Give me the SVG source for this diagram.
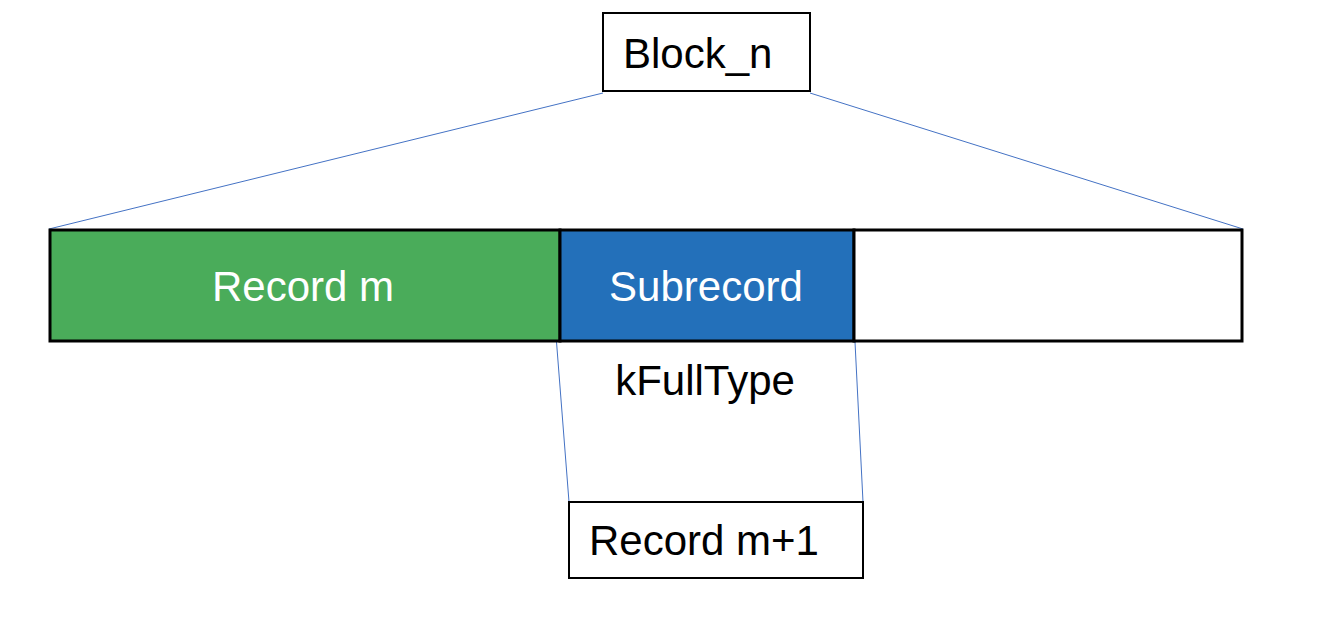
<svg xmlns="http://www.w3.org/2000/svg" width="1339" height="621" viewBox="0 0 1339 621">
<style>
text{font-family:"Liberation Sans",Arial,sans-serif;font-size:42px}
.dark{fill:#000}
.light{fill:#fff}
.box{fill:#fff;stroke:#000;stroke-width:2}
.conn{stroke:#4472C4;stroke-width:1;fill:none}
</style>
<rect width="1339" height="621" fill="#fff"/>
<g id="connectors">
<line class="conn" x1="603" y1="93" x2="49" y2="229"/>
<line class="conn" x1="810" y1="93" x2="1243" y2="229"/>
<line class="conn" x1="556.5" y1="342" x2="569" y2="502"/>
<line class="conn" x1="855" y1="342" x2="863" y2="502"/>
</g>
<g id="block_n">
<rect class="box" x="603" y="13" width="207" height="78"/>
<text class="dark" x="623" y="68">Block_n</text>
</g>
<g id="record_m">
<rect x="50" y="230" width="510" height="111" fill="#4AAC5A" stroke="#000" stroke-width="3"/>
<text class="light" x="303" y="301" text-anchor="middle">Record m</text>
</g>
<g id="subrecord">
<rect x="560" y="230" width="294" height="111" fill="#2370BA" stroke="#000" stroke-width="3"/>
<text class="light" x="706" y="301" text-anchor="middle">Subrecord</text>
</g>
<g id="free_space">
<rect x="854" y="230" width="388" height="111" fill="#fff" stroke="#000" stroke-width="3"/>
</g>
<g id="kfulltype">
<text class="dark" x="705" y="395" text-anchor="middle">kFullType</text>
</g>
<g id="record_m1">
<rect class="box" x="569" y="502" width="294" height="76"/>
<text class="dark" x="589" y="555">Record m+1</text>
</g>
</svg>
